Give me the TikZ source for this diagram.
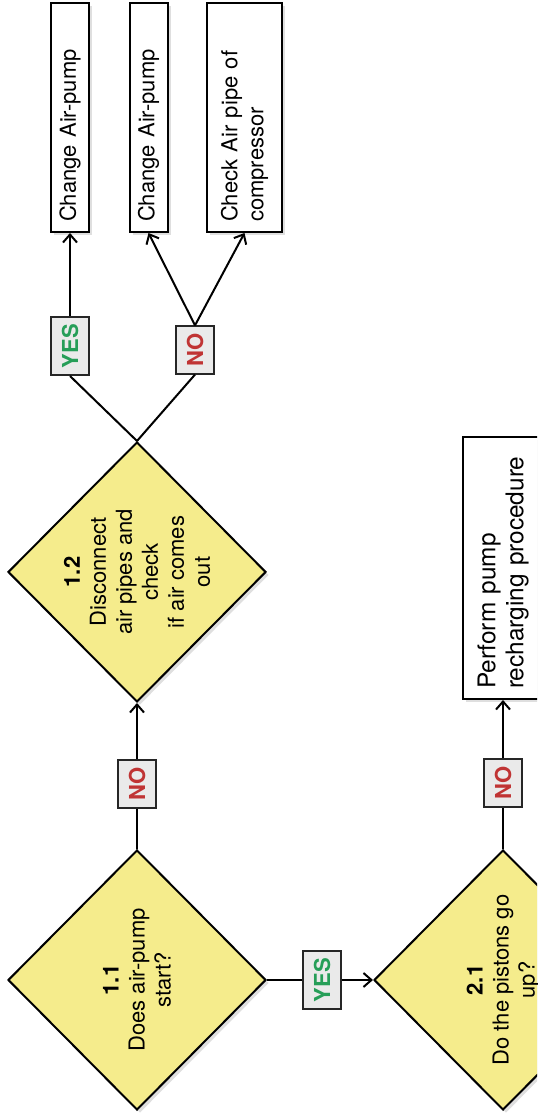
\documentclass[tikz,border=0pt]{standalone}
\usepackage{fontspec}
\setmainfont{TeX Gyre Heros}
\usepackage{xcolor}
\usetikzlibrary{shapes.geometric,arrows.meta,shadows}

\definecolor{questionyellow}{RGB}{245,236,140}
\definecolor{answergray}{RGB}{234,234,234}
\definecolor{yesgreen}{RGB}{38,158,88}
\definecolor{nored}{RGB}{192,52,52}

\begin{document}
\begin{tikzpicture}[x=0.5pt,y=0.5pt,rotate=90,transform shape,
   >={Straight Barb[length=4pt,width=7pt]},line width=1pt,
   font=\fontsize{11}{13}\selectfont,
   question/.style={diamond,draw,fill=questionyellow,inner sep=-5pt,align=center,
      minimum width=130pt,minimum height=129pt,
      drop shadow={opacity=0.25,shadow xshift=1.5pt,shadow yshift=-1.5pt}},
   action/.style={rectangle,draw,fill=white,align=left,text width=104.5pt,
      inner xsep=5pt,inner ysep=3pt,minimum height=19pt,
      drop shadow={opacity=0.25,shadow xshift=1.5pt,shadow yshift=-1.5pt}},
   answer/.style={rectangle,draw=black!85,fill=answergray,inner xsep=3.5pt,inner ysep=0pt,
      minimum height=19pt,font=\fontsize{11}{13}\selectfont\bfseries},
   yes answer/.style={answer,text=yesgreen},
   no answer/.style={answer,text=nored}]

  \useasboundingbox (0,0) rectangle (1115,-537);
  \clip (0,0) rectangle (1115,-537);

  % first column
  \node[question](d11) at (135,-137) {\textbf{1.1}\\Does air-pump\\start?};
  \node[no answer](no1) [right of=d11,node distance=98pt] {NO};
  \node[question](d12) [right of=no1,node distance=106pt] {\textbf{1.2}\\Disconnect\\air pipes and\\check\\if air comes\\out};
  \node[yes answer](yes1) [below of=d11,node distance=92.5pt] {YES};
  \node[question](d21) [below of=yes1,node distance=90.5pt] {\textbf{2.1}\\Do the pistons go\\up?};
  \node[no answer](no2) [right of=d21,node distance=98.5pt] {NO};
  \node[action,text width=121pt,minimum height=40pt,font=\fontsize{12.2}{14}\selectfont](perform) [right of=no2,node distance=107.5pt] {Perform pump\\recharging procedure};

  % answers of 1.2
  \node[yes answer](yes2) at (769,-70) {YES};
  \node[no answer](no3) at (765,-195) {NO};
  \node[action](chA) [right of=yes2,node distance=114.25pt] {Change Air-pump};
  \node[action](chB) [below of=chA,node distance=39.25pt] {Change Air-pump};
  \node[action,minimum height=37.5pt](chC) [below of=chB,node distance=48pt] {Check Air pipe of\\compressor};

  \foreach \from/\to in {d11/no1,d11/yes1,d21/no2} \draw (\from) -- (\to);
  \foreach \from/\to in {no1/d12,yes1/d21,no2/perform,yes2/chA} \draw[->] (\from) -- (\to);
  \draw (d12.east) -- (yes2.west);
  \draw (d12.east) -- (no3.west);
  \draw[->] (no3.east) -- (chB.west);
  \draw[->] (no3.east) -- (chC.west);
\end{tikzpicture}
\end{document}
